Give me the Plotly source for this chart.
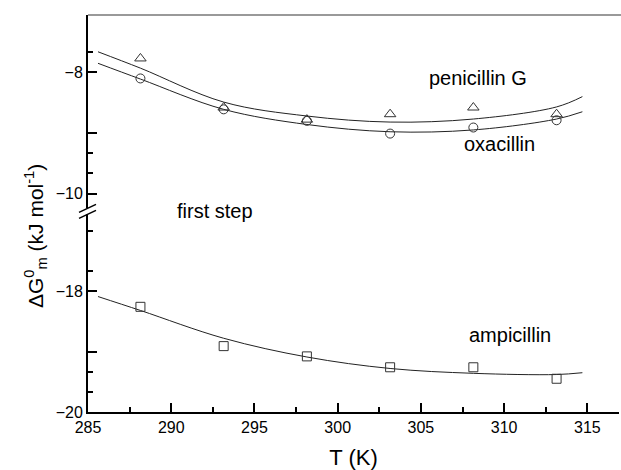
import plotly.graph_objects as go

# ---------------- data ----------------
T_points = [288.15, 293.15, 298.15, 303.15, 308.15, 313.15]
penicillin_G = [-7.77, -8.58, -8.78, -8.69, -8.58, -8.69]
oxacillin = [-8.10, -8.61, -8.80, -9.01, -8.91, -8.79]
ampicillin = [-18.26, -18.91, -19.08, -19.26, -19.26, -19.45]

T_curve = [285.6, 288.15, 293.15, 298.15, 303.15, 308.15, 313.15, 314.7]
penicillin_G_fit = [-7.66, -7.93, -8.49, -8.72, -8.82, -8.77, -8.57, -8.40]
oxacillin_fit = [-7.85, -8.11, -8.61, -8.86, -8.98, -8.95, -8.77, -8.65]
ampicillin_fit = [-18.09, -18.32, -18.78, -19.09, -19.28, -19.36, -19.38, -19.35]

x_ticks = [285, 290, 295, 300, 305, 310, 315]
top_ticks = [-8, -10]
top_mid_tick = [-9]
top_minor = [-7.667, -9.333, -9.667]
bot_ticks = [-18, -20]
bot_mid_tick = [-19]
bot_minor = [-17.0, -17.667, -19.333, -19.667]

FONT = "Liberation Sans, Arial, sans-serif"
BREAK = 0.5055  # paper fraction where the axis is broken
TOP_RANGE = [-10.293, -7.053]
BOT_RANGE = [-20, -16.68]

fig = go.Figure()

line_style = dict(color="#222222", width=1, shape="spline", smoothing=1.0)
mk = dict(color="#333333", size=10, line=dict(color="#333333", width=1))

fig.add_trace(go.Scatter(x=T_curve, y=penicillin_G_fit, mode="lines", line=line_style,
                         xaxis="x", yaxis="y", showlegend=False, hoverinfo="skip"))
fig.add_trace(go.Scatter(x=T_curve, y=oxacillin_fit, mode="lines", line=line_style,
                         xaxis="x", yaxis="y", showlegend=False, hoverinfo="skip"))
fig.add_trace(go.Scatter(x=T_curve, y=ampicillin_fit, mode="lines", line=line_style,
                         xaxis="x", yaxis="y2", showlegend=False, hoverinfo="skip"))

fig.add_trace(go.Scatter(x=T_points, y=penicillin_G, mode="markers",
                         marker=dict(symbol="triangle-up-open", **mk),
                         xaxis="x", yaxis="y", showlegend=False))
fig.add_trace(go.Scatter(x=T_points, y=oxacillin, mode="markers",
                         marker=dict(symbol="circle-open", **{**mk, "size": 9}),
                         xaxis="x", yaxis="y", showlegend=False))
fig.add_trace(go.Scatter(x=T_points, y=ampicillin, mode="markers",
                         marker=dict(symbol="square-open", **{**mk, "size": 9}),
                         xaxis="x", yaxis="y2", showlegend=False))
# invisible helpers so the overlay tick axes are drawn
fig.add_trace(go.Scatter(x=[None], y=[None], xaxis="x", yaxis="y3", showlegend=False,
                         hoverinfo="skip"))
fig.add_trace(go.Scatter(x=[None], y=[None], xaxis="x", yaxis="y4", showlegend=False,
                         hoverinfo="skip"))

axis_common = dict(showgrid=False, zeroline=False, showline=True, linecolor="black",
                   linewidth=2, ticks="inside", ticklen=9, tickwidth=1.5, tickcolor="black",
                   tickfont=dict(family=FONT, size=16, color="black"))
minor_common = dict(ticks="inside", ticklen=5, tickwidth=1.5, tickcolor="black")
mid_common = dict(showgrid=False, zeroline=False, showline=False, ticks="inside", ticklen=9,
                  tickwidth=1.5, tickcolor="black", showticklabels=False, anchor="x",
                  tickmode="array")

fig.update_layout(
    width=621, height=470,
    margin=dict(l=88, r=2, t=15, b=58, autoexpand=False),
    paper_bgcolor="white", plot_bgcolor="white",
    font=dict(family=FONT, color="black"),
    xaxis=dict(range=[285, 316.9], anchor="y2", tickvals=x_ticks,
               minor=dict(dtick=2.5, tick0=285, **minor_common),
               title=dict(text="T (K)", font=dict(family=FONT, size=22), standoff=14),
               automargin=False,
               **axis_common),
    yaxis=dict(domain=[BREAK, 1], range=TOP_RANGE, anchor="x",
               tickmode="array", tickvals=top_ticks,
               minor=dict(tickmode="array", tickvals=top_minor, **minor_common),
               automargin=False, **axis_common),
    yaxis2=dict(domain=[0, BREAK], range=BOT_RANGE, anchor="x",
                tickmode="array", tickvals=bot_ticks,
                minor=dict(tickmode="array", tickvals=bot_minor, **minor_common),
                automargin=False, **axis_common),
    yaxis3=dict(domain=[BREAK, 1], range=TOP_RANGE, overlaying="y",
                tickvals=top_mid_tick, **mid_common),
    yaxis4=dict(domain=[0, BREAK], range=BOT_RANGE, overlaying="y2",
                tickvals=bot_mid_tick, **mid_common),
)

# top frame line (grey)
fig.add_shape(type="line", xref="paper", yref="paper", x0=0, x1=1.01, y0=1, y1=1,
              line=dict(color="#777777", width=1.5))

# axis break: white gap + two slashes
fig.add_shape(type="rect", xref="paper", yref="paper", xsizemode="pixel", ysizemode="pixel",
              xanchor=0, yanchor=BREAK, x0=-3, x1=3, y0=-3, y1=3,
              fillcolor="white", line=dict(width=0))
for dy in (3, -3):
    fig.add_shape(type="line", xref="paper", yref="paper", xsizemode="pixel", ysizemode="pixel",
                  xanchor=0, yanchor=BREAK, x0=-9, x1=8, y0=dy - 4, y1=dy + 4,
                  line=dict(color="black", width=1.5))

ann_font = dict(family=FONT, size=20, color="black")
fig.add_annotation(x=308.4, y=-8.10, xref="x", yref="y", text="penicillin G",
                   showarrow=False, font=ann_font)
fig.add_annotation(x=309.7, y=-9.19, xref="x", yref="y", text="oxacillin",
                   showarrow=False, font=ann_font)
fig.add_annotation(x=292.6, y=BREAK + 0.001, xref="x", yref="paper", text="first step",
                   showarrow=False, font=ann_font)
fig.add_annotation(x=310.35, y=-18.72, xref="x", yref="y2", text="ampicillin",
                   showarrow=False, font=ann_font)

fig.add_annotation(x=-0.131, y=0.443, xref="paper", yref="paper", textangle=-90,
                   text="ΔG<sup>0</sup><sub>m</sub> (kJ mol<sup>-1</sup>)",
                   showarrow=False, font=dict(family=FONT, size=21, color="black"))

fig.write_html("out.html", config={"displayModeBar": False},
               post_script="document.body.style.margin='0';document.body.style.padding='0';"
                           "document.body.style.overflow='hidden';")
